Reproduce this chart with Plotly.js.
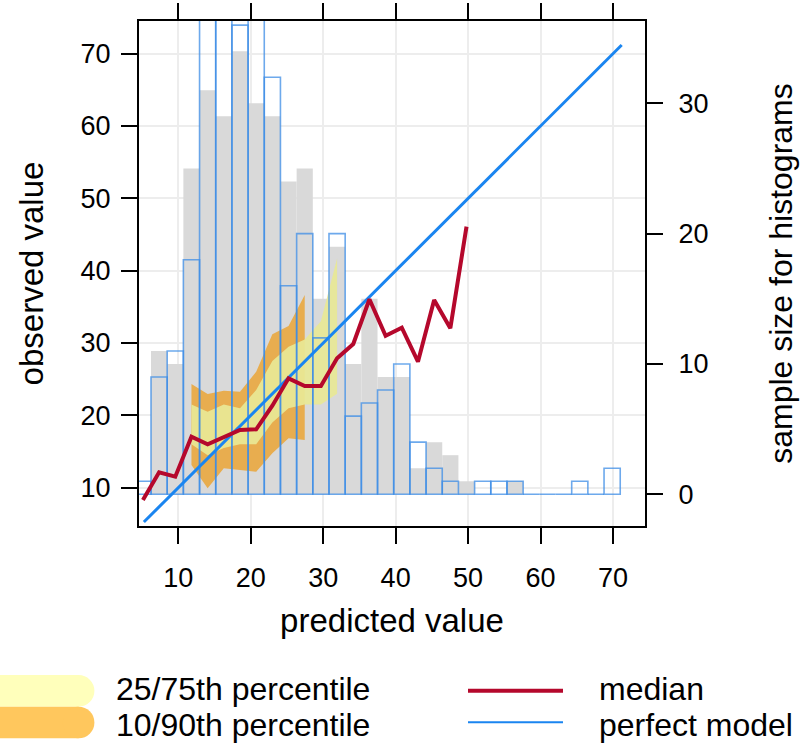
<!DOCTYPE html>
<html>
<head>
<meta charset="utf-8">
<script src="https://cdn.plot.ly/plotly-3.0.1.min.js"></script>
<style>
  html, body { margin: 0; padding: 0; background: #ffffff; }
  #chart { width: 802px; height: 744px; }
</style>
</head>
<body>
<div id="chart"></div>
<script>
// Bin mid-points of the predicted values (30 bins from 4 to 71)
const binMids = [5.117, 7.350, 9.583, 11.817, 14.050, 16.283, 18.517, 20.750, 22.983, 25.217,
                 27.450, 29.683, 31.917, 34.150, 36.383, 38.617, 40.850, 43.083, 45.317, 47.550,
                 49.783, 52.017, 54.250, 56.483, 58.717, 60.950, 63.183, 65.417, 67.650, 69.883];
const binWidth = 2.2333;

// Histogram counts per bin
const observedCounts  = [0, 11, 10, 25, 31, 29, 34, 30, 29, 24, 25, 15, 19, 10, 15, 9, 9, 2, 4, 3, 1, 0, 0, 1, 0, 0, 0, 0, 0, 0];
const predictedCounts = [1, 9, 11, 18, 40, 37, 36, 40, 32, 16, 20, 12, 20, 6, 7, 8, 10, 4, 2, 1, 0, 1, 1, 1, 0, 0, 0, 1, 0, 2];

// Conditional median of the observations (bins 1..21)
const medianObs = [8.3, 12.13, 11.52, 17.05, 16.0, 16.97, 17.98, 18.07, 21.34, 25.12,
                   24.06, 24.06, 27.89, 29.87, 36.05, 31.01, 32.12, 27.42, 35.95, 32.04, 46.09];

// 10/90th percentile band (bins 4..11)
const q10 = [13.14, 9.91, 12.68, 12.45, 12.21, 14.75, 16.83, 16.59];
const q90 = [24.34, 22.95, 23.41, 23.27, 26.04, 31.21, 32.36, 36.64];

// 25/75th percentile band (bins 4..13)
const q25 = [16.0, 14.5, 15.5, 16.0, 16.0, 19.0, 21.0, 21.5, 21.5, 23.0];
const q75 = [21.5, 20.5, 21.5, 21.0, 23.5, 27.5, 29.5, 30.5, 33.0, 41.7];

// Perfect model line end points (1:1)
const perfectLine = [5.25, 71.2];

const xTicks = [10, 20, 30, 40, 50, 60, 70];
const yTicks = [10, 20, 30, 40, 50, 60, 70];
const countTicks = [0, 10, 20, 30];

const FONT = 'Liberation Sans, Arial, Helvetica, sans-serif';

function band(xs, lo, hi) {
  return {
    x: xs.concat(xs.slice().reverse()),
    y: hi.concat(lo.slice().reverse())
  };
}

const x90 = binMids.slice(3, 3 + q10.length);
const x75 = binMids.slice(3, 3 + q25.length);
const b90 = band(x90, q10, q90);
const b75 = band(x75, q25, q75);

const traces = [
  { // observed histogram
    type: 'bar', x: binMids, y: observedCounts, width: binWidth,
    xaxis: 'x', yaxis: 'y',
    marker: { color: '#d9d9d9', line: { width: 0 } },
    hoverinfo: 'skip', showlegend: false
  },
  { // 10/90th percentile
    type: 'scatter', mode: 'lines', x: b90.x, y: b90.y, fill: 'toself',
    fillcolor: 'rgba(236,160,40,0.78)', line: { width: 0 },
    xaxis: 'x', yaxis: 'y2', hoverinfo: 'skip', showlegend: false
  },
  { // 25/75th percentile
    type: 'scatter', mode: 'lines', x: b75.x, y: b75.y, fill: 'toself',
    fillcolor: 'rgba(232,232,150,0.92)', line: { width: 0 },
    xaxis: 'x', yaxis: 'y2', hoverinfo: 'skip', showlegend: false
  },
  { // predicted histogram (outline)
    type: 'bar', x: binMids, y: predictedCounts, width: binWidth,
    xaxis: 'x', yaxis: 'y3',
    marker: { color: 'rgba(0,0,0,0)', line: { color: 'rgba(60,140,230,0.75)', width: 1.6 } },
    hoverinfo: 'skip', showlegend: false
  },
  { // perfect model
    type: 'scatter', mode: 'lines', x: perfectLine, y: perfectLine,
    line: { color: '#1a85f0', width: 3 },
    xaxis: 'x', yaxis: 'y4', hoverinfo: 'skip', showlegend: false
  },
  { // median
    type: 'scatter', mode: 'lines', x: binMids.slice(0, medianObs.length), y: medianObs,
    line: { color: '#b5082c', width: 4 },
    xaxis: 'x', yaxis: 'y4', hoverinfo: 'skip', showlegend: false
  }
];

const axisCommon = {
  ticks: 'outside', ticklen: 16, tickwidth: 2, tickcolor: '#000',
  showline: true, linewidth: 2, linecolor: '#000',
  zeroline: false,
  tickfont: { family: FONT, size: 27, color: '#000' }
};

const countRange = [-2.432, 36.315];
const obsRange = [4.705, 74.52];

// legend geometry in paper coordinates
const px = v => (v - 139) / 506;
const py = v => (526 - v) / 505;

const shapes = [
  { type: 'rect', xref: 'paper', yref: 'paper', x0: px(-20), x1: px(78.6), y0: py(706.7), y1: py(675), fillcolor: '#ffffbb', line: { width: 0 }, layer: 'above' },
  { type: 'circle', xref: 'paper', yref: 'paper', x0: px(62.8), x1: px(94.4), y0: py(706.7), y1: py(675), fillcolor: '#ffffbb', line: { width: 0 }, layer: 'above' },
  { type: 'rect', xref: 'paper', yref: 'paper', x0: px(-20), x1: px(78.6), y0: py(738.3), y1: py(706.7), fillcolor: '#ffc75d', line: { width: 0 }, layer: 'above' },
  { type: 'circle', xref: 'paper', yref: 'paper', x0: px(62.8), x1: px(94.4), y0: py(738.3), y1: py(706.7), fillcolor: '#ffc75d', line: { width: 0 }, layer: 'above' },
  { type: 'line', xref: 'paper', yref: 'paper', x0: px(468), x1: px(563), y0: py(690.7), y1: py(690.7), line: { color: '#b5082c', width: 4 } },
  { type: 'line', xref: 'paper', yref: 'paper', x0: px(468), x1: px(563), y0: py(722.3), y1: py(722.3), line: { color: '#1a85f0', width: 2 } }
];

const legendFont = { family: FONT, size: 32, color: '#000' };
const annotations = [
  { text: '25/75th percentile', x: px(114), y: py(689), xref: 'paper', yref: 'paper', xanchor: 'left', yanchor: 'middle', showarrow: false, font: legendFont },
  { text: '10/90th percentile', x: px(114), y: py(725), xref: 'paper', yref: 'paper', xanchor: 'left', yanchor: 'middle', showarrow: false, font: legendFont },
  { text: 'median', x: px(597), y: py(689), xref: 'paper', yref: 'paper', xanchor: 'left', yanchor: 'middle', showarrow: false, font: legendFont },
  { text: 'perfect model', x: px(597), y: py(725), xref: 'paper', yref: 'paper', xanchor: 'left', yanchor: 'middle', showarrow: false, font: legendFont }
];

const layout = {
  width: 802, height: 744,
  margin: { l: 139, r: 157, t: 21, b: 218, pad: 0 },
  paper_bgcolor: '#ffffff', plot_bgcolor: '#ffffff',
  showlegend: false,
  barmode: 'overlay',
  font: { family: FONT, color: '#000' },
  xaxis: Object.assign({}, axisCommon, {
    range: [4.576, 74.42], tickvals: xTicks, mirror: 'ticks', ticklabelstandoff: 11,
    showgrid: true, gridcolor: '#ededed', gridwidth: 2,
    title: { text: 'predicted value', font: { family: FONT, size: 33, color: '#000' }, standoff: 16 }
  }),
  yaxis: Object.assign({}, axisCommon, {
    side: 'right', range: countRange, tickvals: countTicks, showgrid: false, ticklabelstandoff: 10,
    title: { text: 'sample size for histograms', font: { family: FONT, size: 32, color: '#000' }, standoff: 62 }
  }),
  yaxis2: Object.assign({}, axisCommon, {
    overlaying: 'y', side: 'left', range: obsRange, tickvals: yTicks, ticklabelstandoff: 5,
    showgrid: true, gridcolor: '#ededed', gridwidth: 2,
    title: { text: 'observed value', font: { family: FONT, size: 33, color: '#000' }, standoff: 27 }
  }),
  yaxis3: { overlaying: 'y', range: countRange, visible: false },
  yaxis4: { overlaying: 'y', range: obsRange, visible: false },
  shapes: shapes,
  annotations: annotations
};

Plotly.newPlot('chart', traces, layout, { staticPlot: true, displayModeBar: false });
</script>
</body>
</html>
